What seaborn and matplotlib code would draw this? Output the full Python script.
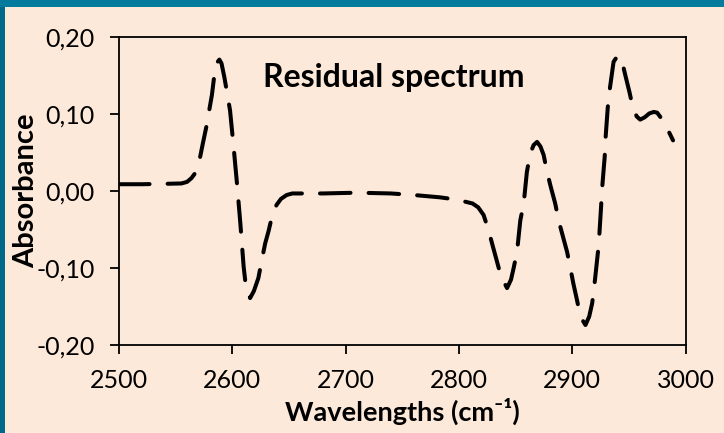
import matplotlib
matplotlib.use("Agg")
import matplotlib.pyplot as plt
import seaborn as sns
import pandas as pd
from matplotlib.patches import Rectangle

# ---- data ----
wavenumber = [2500, 2520, 2540, 2555, 2560, 2564, 2567, 2571, 2574, 2577, 2582, 2584.5,
              2586.5, 2588.6, 2590.5, 2593, 2595, 2598, 2601, 2604, 2607, 2610, 2612,
              2615.7, 2619, 2623, 2626, 2629, 2632, 2635, 2639, 2643, 2648, 2653, 2680,
              2710, 2740, 2760, 2783, 2798, 2812, 2817, 2821.8, 2826.2, 2830, 2833.7,
              2837.2, 2842.5, 2846, 2848.3, 2851.3, 2854.2, 2857.2, 2860, 2863, 2866,
              2869, 2872, 2874.8, 2877.8, 2881, 2885, 2888, 2892, 2895.5, 2898.4, 2901,
              2904.3, 2907.2, 2911.7, 2915, 2917.6, 2919.6, 2923.4, 2925.5, 2926.4,
              2928.7, 2929.3, 2931.4, 2933, 2936.5, 2940, 2943.8, 2947, 2950.5, 2953.8,
              2957, 2960, 2964, 2968, 2972, 2975, 2979, 2983.2, 2989]
absorbance = [0.009, 0.009, 0.0095, 0.010, 0.012, 0.017, 0.023, 0.040, 0.062, 0.083, 0.125, 0.155,
              0.167, 0.171, 0.166, 0.148, 0.131, 0.105, 0.060, 0.012, -0.040, -0.098, -0.124,
              -0.139, -0.130, -0.113, -0.090, -0.068, -0.052, -0.033, -0.018, -0.010, -0.005, -0.003, -0.003,
              -0.002, -0.003, -0.005, -0.008, -0.011, -0.016, -0.021, -0.031, -0.051, -0.072, -0.092,
              -0.111, -0.126, -0.115, -0.100, -0.079, -0.038, -0.016, 0.025, 0.049, 0.060,
              0.064, 0.058, 0.047, 0.025, 0.006, -0.016, -0.038, -0.060, -0.079, -0.100, -0.120,
              -0.142, -0.163, -0.174, -0.163, -0.146, -0.122, -0.070, -0.020, 0.0035,
              0.045, 0.066, 0.109, 0.131, 0.168, 0.176, 0.170, 0.150, 0.129, 0.107,
              0.097, 0.093, 0.096, 0.101, 0.103, 0.102, 0.094, 0.0835, 0.066]
x_ticks = [2500, 2600, 2700, 2800, 2900, 3000]
y_ticks = [-0.20, -0.10, 0.00, 0.10, 0.20]
y_tick_labels = ["-0,20", "-0,10", "0,00", "0,10", "0,20"]
title_text = "Residual spectrum"
x_label = "Wavelengths (cm\u207b\u00b9)"
y_label = "Absorbance"

df = pd.DataFrame({"wavenumber": wavenumber, "absorbance": absorbance})

sns.set_theme(style="ticks")
plt.rcParams["font.family"] = ["Lato", "DejaVu Sans"]
plt.rcParams["lines.scale_dashes"] = False

BG = "#FDE9D9"
fig = plt.figure(figsize=(7.24, 4.33), dpi=100, facecolor=BG)
ax = fig.add_axes([119 / 724, 1 - 345 / 433, (685.5 - 119) / 724, (345 - 37.3) / 433])
ax.set_facecolor(BG)

sns.lineplot(data=df, x="wavenumber", y="absorbance", ax=ax, color="black",
             linewidth=2.9, estimator=None)
line = ax.get_lines()[0]
line.set_dashes((22, 13))
line.set_dash_capstyle("round")
line.set_solid_capstyle("round")

ax.set_xlim(2500, 3000)
ax.set_ylim(-0.20, 0.20)
ax.set_xticks(x_ticks)
ax.set_xticklabels([str(t) for t in x_ticks])
ax.set_yticks(y_ticks)
ax.set_yticklabels(y_tick_labels)

for s in ax.spines.values():
    s.set_color("black")
    s.set_linewidth(1.3)
ax.tick_params(axis="both", direction="out", length=6.5, width=1.3, color="black",
               labelsize=18, labelcolor="black", pad=11)

ax.set_xlabel("")
ax.set_ylabel("")
fig.text(402 / 724, 1 - 411 / 433, x_label, ha="center", va="center",
         fontsize=19.5, fontweight="bold", color="black")
fig.text(26 / 724, 1 - 191 / 433, y_label, ha="center", va="center", rotation=90,
         fontsize=21, fontweight="bold", color="black")
ax.text((263 - 119) / 566.5, (345 - 78) / 307.7, title_text, transform=ax.transAxes,
        ha="left", va="center", fontsize=23, fontweight="bold", color="black")

# teal frame edges
fig.patches.append(Rectangle((0, 0), 5 / 724, 1, transform=fig.transFigure,
                             facecolor="#02688A", edgecolor="none", zorder=-1))
fig.patches.append(Rectangle((0, 1 - 7 / 433), 1, 7 / 433, transform=fig.transFigure,
                             facecolor="#047A9C", edgecolor="none", zorder=-1))

fig.savefig("out.png", dpi=100, facecolor=BG)
